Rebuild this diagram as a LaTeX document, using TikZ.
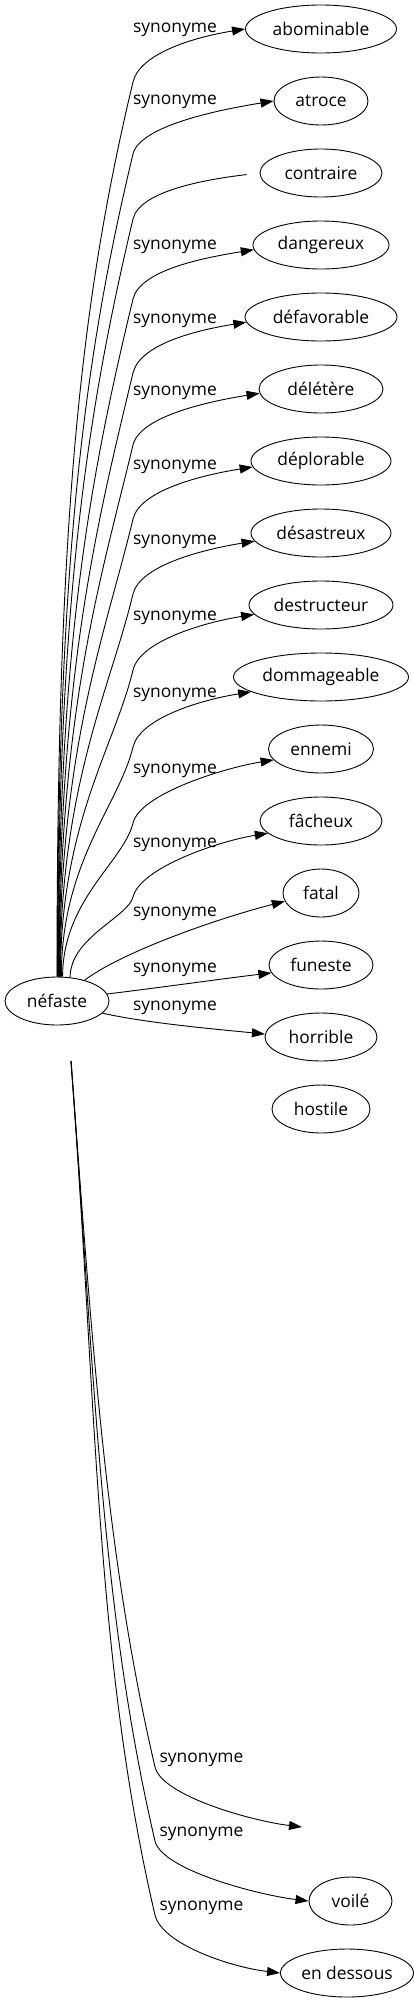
\documentclass[tikz,border=0pt]{standalone}
\usepackage{fontspec}
\setmainfont{Open Sans}
\usetikzlibrary{arrows.meta,shapes.geometric}

\begin{document}
\begin{tikzpicture}[x=1pt,y=-1pt,
  every node/.style={font=\fontsize{17.4pt}{20pt}\selectfont},
  mot/.style={draw, ellipse, line width=0.9pt, inner sep=0pt, minimum height=48pt},
  syn/.style={line width=0.9pt, -{Triangle[length=13pt,width=9pt]}},
  lbl/.style={inner sep=0pt}]
 \useasboundingbox (0,0) rectangle (413,2003);

 % the word and its synonyms
 \node[mot, minimum width=104pt] (nef) at (57,1001) {néfaste};
 \foreach \n/\t/\y/\w in {abom/abominable/29/151, atro/atroce/101/94, contr/contraire/173/122,
   dang/dangereux/245/136, defa/défavorable/317/152, dele/délétère/389/124,
   depl/déplorable/461/140, desa/désastreux/533/140, dest/destructeur/605/144,
   domm/dommageable/677/175, enne/ennemi/749/105, fach/fâcheux/821/122,
   fata/fatal/893/76, fune/funeste/965/104, horr/horrible/1037/112, host/hostile/1109/98}
   \node[mot, minimum width=\w pt] (\n) at (321,\y) {\t};
 \node[mot, minimum width=83pt] (voile) at (350.5,1901) {voilé};
 \node[mot, minimum width=133pt] (dess) at (347,1973) {en dessous};
 \coordinate (vide) at (302,1827);
 \coordinate (nefb) at (71,1061);

 % long edges going up
 \foreach \n/\s/\ly/\ang in {abom/90/30/180, atro/89/102/180, dang/87/247/184, defa/86/321/184,
   dele/85/393/184, depl/84/467/185, desa/83/542/187, dest/82/618/188,
   domm/80/695/192, enne/77/771/193, fach/61/845/193}
 {
   \pgfmathsetmacro\bendy{\ly+52}
   \pgfmathsetmacro\haut{977-\bendy}
   \coordinate (b) at (133,\bendy);
   \draw[syn] (nef.\s) .. controls +(0,-0.5*\haut) and +(-0.06*\haut,0.25*\haut) .. (b)
     .. controls +(7,-29) and +(-50,8) .. (\n.\ang);
   \node[lbl] at (175,\ly) {synonyme};
 }
 \coordinate (bc) at (133,219);
 \draw[line width=0.9pt, shorten >=13pt] (nef.88) .. controls +(0,-379) and +(-45,190) .. (bc)
   .. controls +(7,-29) and +(-50,6) .. (contr.west);

 % short edges
 \draw[syn] (nef.37) .. controls +(40,-30) and +(-60,15) .. (fata.193);
 \node[lbl] at (175,914) {synonyme};
 \draw[syn] (nef.8) .. controls +(50,-6) and +(-50,6) .. (fune.189);
 \node[lbl] at (175,970) {synonyme};
 \draw[syn] (nef.345) .. controls +(45,10) and +(-50,-5) .. (horr.177);
 \node[lbl] at (175,1008) {synonyme};

 % edges going down
 \foreach \n/\ly in {vide/1760, voile.west/1834, dess.west/1908}
 {
   \pgfmathsetmacro\bendy{\ly+7}
   \pgfmathsetmacro\haut{\bendy-1061}
   \coordinate (b) at (155,\bendy);
   \draw[syn] (nefb) .. controls +(0.03*\haut,0.4*\haut) and +(-0.07*\haut,-0.3*\haut) .. (b)
     .. controls +(7,29) and +(-50,-6) .. (\n);
   \node[lbl] at (201.5,\ly) {synonyme};
 }
\end{tikzpicture}
\end{document}
